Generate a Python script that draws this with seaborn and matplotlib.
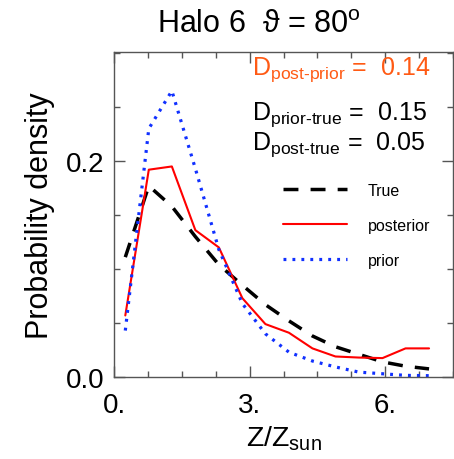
import matplotlib
matplotlib.use("Agg")
import matplotlib.pyplot as plt
import seaborn as sns
import pandas as pd
from matplotlib.lines import Line2D
from matplotlib.ticker import MultipleLocator, FixedLocator, FixedFormatter

# ---- data ----
z_bins = [0.25, 0.77, 1.28, 1.80, 2.32, 2.84, 3.35, 3.87, 4.39, 4.90, 5.42, 5.94, 6.45, 6.97]
true_pdf = [0.111, 0.177, 0.158, 0.130, 0.104, 0.085, 0.067, 0.052, 0.038, 0.028, 0.021, 0.014, 0.010, 0.0075]
posterior_pdf = [0.057, 0.192, 0.195, 0.136, 0.120, 0.073, 0.049, 0.041, 0.0265, 0.019, 0.018, 0.0175, 0.0265, 0.0265]
prior_pdf = [0.043, 0.230, 0.265, 0.193, 0.118, 0.068, 0.040, 0.023, 0.0148, 0.0093, 0.0045, 0.003, 0.0015, 0.0012]
series_names = ["True", "posterior", "prior"]
x_tick_vals = [0, 3, 6]
x_tick_labels = ["0.", "3.", "6."]
y_tick_vals = [0.0, 0.2]
y_tick_labels = ["0.0", "0.2"]
d_labels = ["post-prior", "prior-true", "post-true"]
d_values = ["0.14", "0.15", "0.05"]

sns.set_theme(style="ticks")
plt.rcParams["font.family"] = ["Liberation Sans", "DejaVu Sans"]
plt.rcParams["mathtext.fontset"] = "custom"
plt.rcParams["mathtext.rm"] = "Liberation Sans"
plt.rcParams["mathtext.it"] = "Liberation Sans:italic"
plt.rcParams["mathtext.bf"] = "Liberation Sans:bold"
for k in ["text.color", "axes.labelcolor", "xtick.labelcolor", "ytick.labelcolor"]:
    plt.rcParams[k] = "black"

df = pd.DataFrame({"z": z_bins, "True": true_pdf, "posterior": posterior_pdf, "prior": prior_pdf})

fig = plt.figure(figsize=(4.54, 4.60), dpi=100)
ax = fig.add_axes([114/454, 1-378/460, 339/454, 325/460])

sns.lineplot(data=df, x="z", y="True", ax=ax, color="black", lw=2.5, estimator=None)
ax.lines[-1].set_dashes((4.3, 3.5))
sns.lineplot(data=df, x="z", y="posterior", ax=ax, color="#ff0000", lw=1.5, estimator=None)
sns.lineplot(data=df, x="z", y="prior", ax=ax, color="#1030ff", lw=2.3, estimator=None)
ax.lines[-1].set_dashes((0.9, 1.9))

ax.set_xlim(0, 7.5)
ax.set_ylim(0, 0.301)
ax.xaxis.set_major_locator(FixedLocator(x_tick_vals))
ax.xaxis.set_major_formatter(FixedFormatter(x_tick_labels))
ax.xaxis.set_minor_locator(MultipleLocator(0.75))
ax.yaxis.set_major_locator(FixedLocator(y_tick_vals))
ax.yaxis.set_major_formatter(FixedFormatter(y_tick_labels))
ax.yaxis.set_minor_locator(MultipleLocator(0.05))
ax.tick_params(which="both", direction="in", top=True, right=True, color="#555555", width=1)
ax.tick_params(which="major", length=8, labelsize=20, pad=7)
ax.tick_params(axis="x", which="major", pad=11)
ax.tick_params(which="minor", length=4)
for s in ax.spines.values():
    s.set_color("#555555")
    s.set_linewidth(1)

ax.set_xlabel(r"Z/Z$_{\mathrm{sun}}$", fontsize=20.5, labelpad=4)
ax.set_ylabel("Probability density", fontsize=22, labelpad=8)

fig.text(259/454, 1-33/460, r"Halo 6  ϑ = 80$^{\mathrm{o}}$", ha="center", va="baseline", fontsize=22)

d_colors = ["#ff5a14", "black", "black"]
d_baselines = [75, 120, 150]
for lab, val, col, yy in zip(d_labels, d_values, d_colors, d_baselines):
    fig.text(252/454, 1-yy/460, r"D$_{\mathrm{%s}}$ =  %s" % (lab.replace("-", "\u2010"), val),
             ha="left", va="baseline", fontsize=18, color=col)

handles = [Line2D([], [], color="black", lw=2.5, dashes=(4.3, 3.5)),
           Line2D([], [], color="#ff0000", lw=1.5),
           Line2D([], [], color="#1030ff", lw=2.3, dashes=(0.9, 1.9))]
ax.legend(handles, series_names, loc="upper left", bbox_to_anchor=(0.4985, 0.598),
          frameon=False, fontsize=11.5, handlelength=4.0, handletextpad=1.3,
          labelspacing=1.25, borderpad=0, borderaxespad=0)

fig.savefig("out.png", dpi=100)
